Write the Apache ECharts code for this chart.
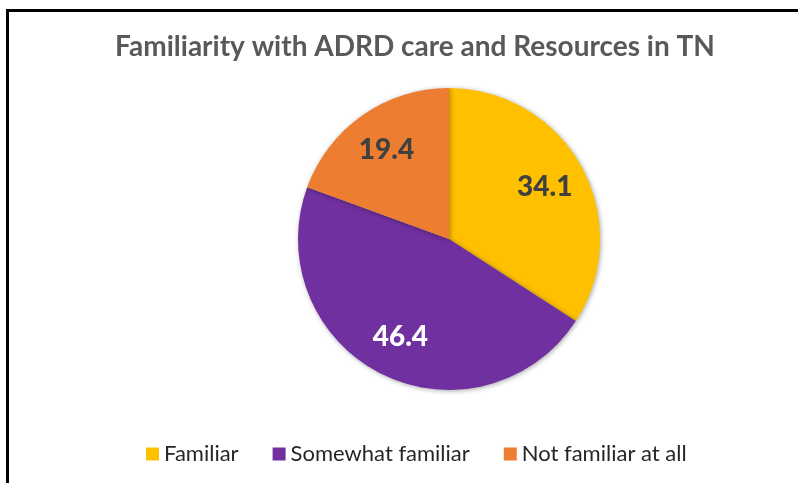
<!DOCTYPE html>
<html><head><meta charset="utf-8">
<script src="https://cdn.jsdelivr.net/npm/echarts@6/dist/echarts.min.js"></script>
<style>
html,body{margin:0;padding:0;background:#fff;overflow:hidden;}
#c{width:798px;height:483px;position:absolute;left:0;top:0;}
#frame{position:absolute;left:6px;top:9px;width:900px;height:600px;border-left:3px solid #000;border-top:3px solid #000;pointer-events:none;}
</style></head><body>
<div id="c"></div><div id="frame"></div>
<script>
const titleText = 'Familiarity with ADRD care and Resources in TN';
const categories = ['Familiar', 'Somewhat familiar', 'Not familiar at all'];
const values = [34.1, 46.4, 19.4];
const sliceColors = ['#FFC000', '#7030A0', '#ED7D31'];
const labelColors = ['#404040', '#FFFFFF', '#404040'];

const chart = echarts.init(document.getElementById('c'), null, {renderer: 'canvas'});
const pieData = categories.map((n, i) => ({name: n, value: values[i], itemStyle: {color: sliceColors[i]}}));
const labelData = categories.map((n, i) => ({name: n, value: values[i], itemStyle: {color: 'rgba(0,0,0,0)'},
  label: {color: labelColors[i]}}));
chart.setOption({
  animation: false,
  title: {
    text: titleText, left: 410, textAlign: 'center', top: 28,
    textStyle: {fontFamily: 'Lato', fontWeight: 'bold', fontSize: 28, color: '#595959'}
  },
  legend: {
    data: categories.map((n, i) => ({name: n, itemStyle: {color: sliceColors[i]}})),
    left: 146, top: 443, padding: 0, icon: 'rect', itemWidth: 13, itemHeight: 13, itemGap: 34,
    textStyle: {fontFamily: 'Lato', fontSize: 22, color: '#262626'}
  },
  series: [
    {
      type: 'pie', center: [449, 239], radius: [0, 151], startAngle: 90, clockwise: true,
      label: {show: false}, labelLine: {show: false}, silent: true,
      itemStyle: {shadowBlur: 5, shadowColor: 'rgba(0,0,0,0.35)', shadowOffsetX: 1, shadowOffsetY: 1},
      data: pieData
    },
    {
      type: 'pie', center: [449, 239], radius: [0, 212], startAngle: 90, clockwise: true, silent: true,
      legendHoverLink: false,
      label: {show: true, position: 'inside', formatter: p => p.value.toFixed(1),
        fontFamily: 'Lato', fontWeight: 900, fontSize: 28},
      labelLine: {show: false},
      data: labelData
    }
  ]
});
</script>
</body></html>
